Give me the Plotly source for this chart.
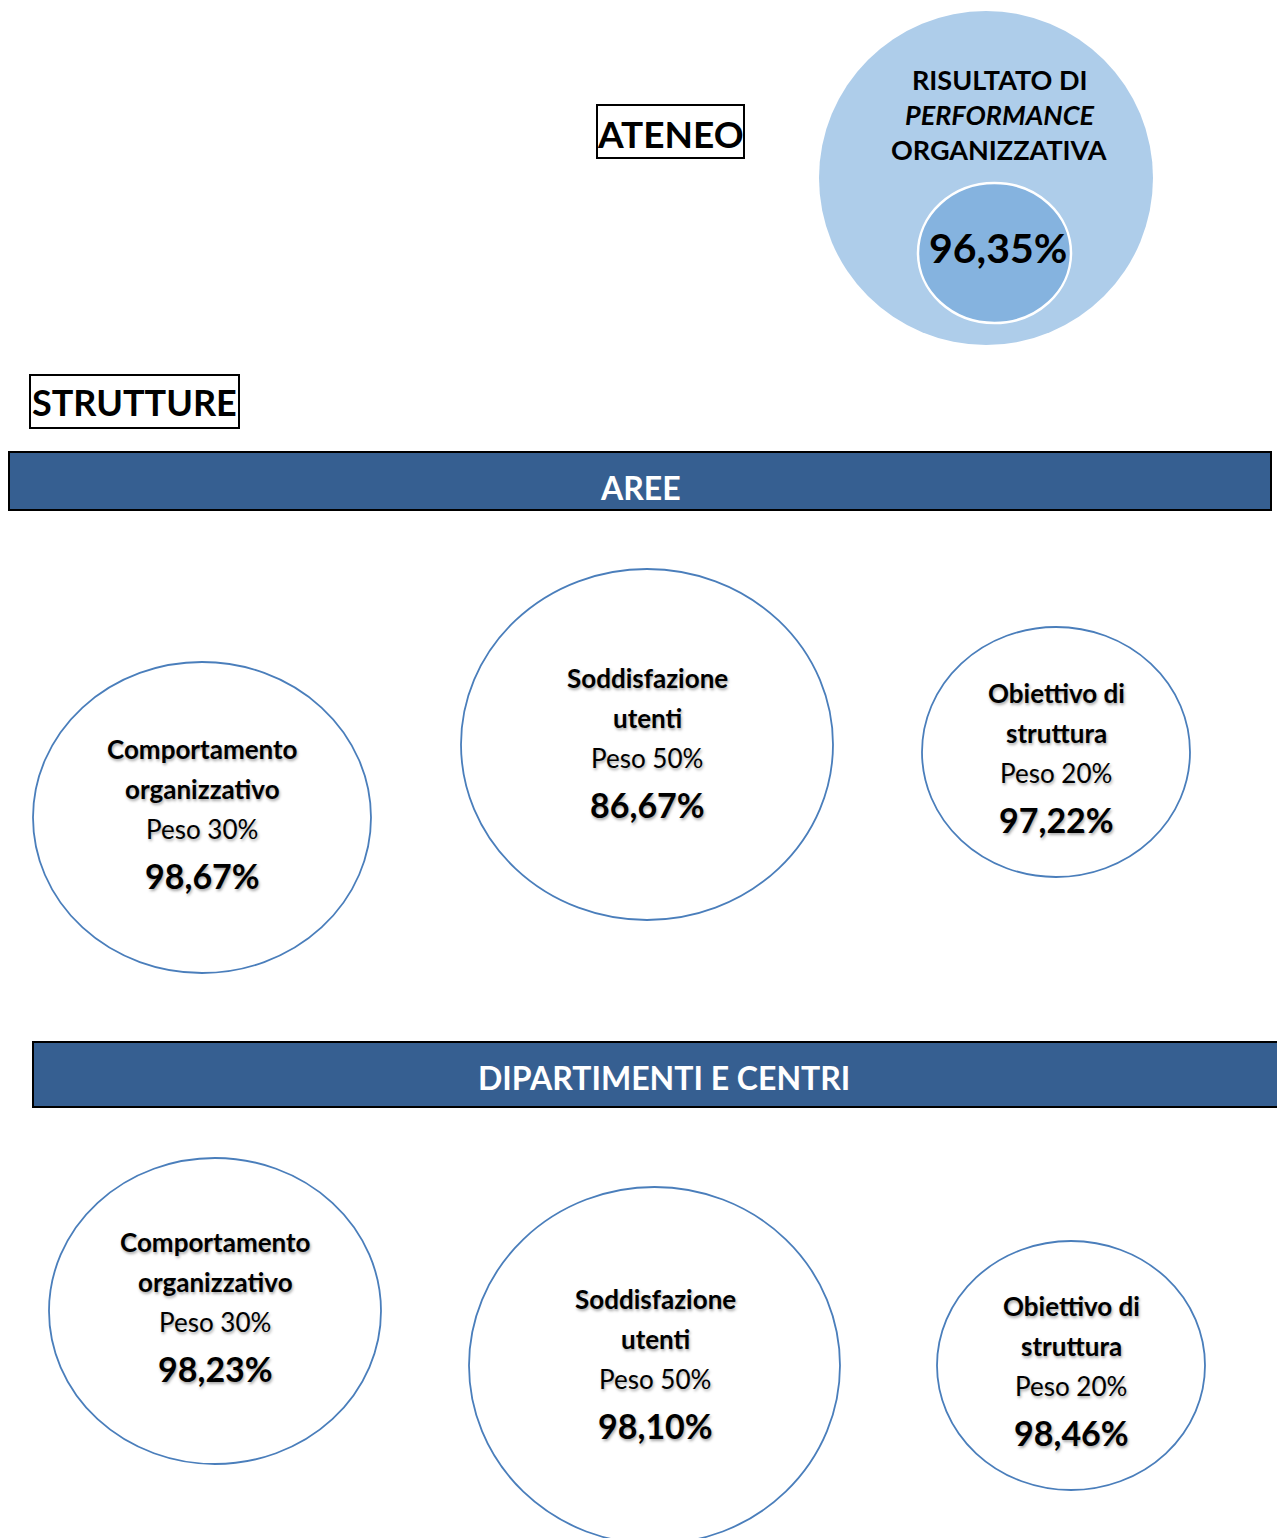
import plotly.graph_objects as go

W, H = 1285, 1538
OFF = 8  # default page body margin
FONT = "Lato"

# ---- data ----
ateneo_label = "ATENEO"
ateneo_title = ["RISULTATO DI", "<i>PERFORMANCE</i>", "ORGANIZZATIVA"]
ateneo_value = "96,35%"
strutture_label = "STRUTTURE"
sections = ["AREE", "DIPARTIMENTI E CENTRI"]
components = [["Comportamento", "organizzativo"], ["Soddisfazione", "utenti"], ["Obiettivo di", "struttura"]]
weights = ["Peso 30%", "Peso 50%", "Peso 20%"]
aree_values = ["98,67%", "86,67%", "97,22%"]
dip_values = ["98,23%", "98,10%", "98,46%"]

# ---- layout geometry (pixel coordinates) ----
aree_circles = [(33, 662, 371, 973), (461, 569, 833, 920), (922, 627, 1190, 877)]
dip_circles = [(49, 1158, 381, 1464), (469, 1187, 840, 1544), (937, 1241, 1205, 1490)]
aree_text_y = [749, 678, 693]
dip_text_y = [1242, 1299, 1306]
aree_text_x = [202, 647, 1056]
dip_text_x = [215, 655, 1071]

fig = go.Figure()
shapes = []
annotations = []
shadow = "1px 2px 3px rgba(0,0,0,0.35)"

def txt(x, y, text, size, bold=True, color="black", shad=None):
    annotations.append(dict(
        x=x, y=y, xref="x", yref="y", text=(f"<b>{text}</b>" if bold else text),
        showarrow=False, xanchor="center", yanchor="middle",
        font=dict(family=FONT, size=size, color=color, shadow=shad or "none")))

# ATENEO box
shapes.append(dict(type="rect", x0=597, y0=105, x1=744, y1=158, line=dict(color="black", width=2), fillcolor="white"))
txt(670, 133, ateneo_label, 37)

# Big circle
shapes.append(dict(type="circle", x0=819, y0=11, x1=1153, y1=345, line=dict(width=0), fillcolor="#AECDEA"))
shapes.append(dict(type="circle", x0=918, y0=183, x1=1071, y1=323, line=dict(color="white", width=2.5), fillcolor="#85B3DF"))
for i, t in enumerate(ateneo_title):
    txt(999, 79 + 35 * i, t, 27)
txt(998, 247, ateneo_value, 41)

# STRUTTURE box
shapes.append(dict(type="rect", x0=30, y0=375, x1=239, y1=428, line=dict(color="black", width=2), fillcolor="white"))
txt(134, 402, strutture_label, 36)

# Banners
banners = [(9, 452, 1271, 510, 640, 487), (33, 1042, 1300, 1107, 664, 1077)]
for (x0, y0, x1, y1, tx, ty), s in zip(banners, sections):
    shapes.append(dict(type="rect", x0=x0, y0=y0, x1=x1, y1=y1, line=dict(color="black", width=2), fillcolor="#365F91"))
    txt(tx, ty, s, 32, color="white")

def row(circles, xs, ys, values):
    for (x0, y0, x1, y1), cx, cy, comp, w, v in zip(circles, xs, ys, components, weights, values):
        shapes.append(dict(type="circle", x0=x0, y0=y0, x1=x1, y1=y1,
                           line=dict(color="#4A7EBB", width=1.8), fillcolor="white"))
        txt(cx, cy, comp[0], 26, shad=shadow)
        txt(cx, cy + 40, comp[1], 26, shad=shadow)
        txt(cx, cy + 80, w, 26, bold=False, shad=shadow)
        txt(cx, cy + 126, v, 34, shad=shadow)

row(aree_circles, aree_text_x, aree_text_y, aree_values)
row(dip_circles, dip_text_x, dip_text_y, dip_values)

fig.update_layout(
    width=W, height=H, margin=dict(l=0, r=0, t=0, b=0),
    paper_bgcolor="white", plot_bgcolor="white",
    xaxis=dict(range=[OFF, W + OFF], visible=False, fixedrange=True),
    yaxis=dict(range=[H + OFF, OFF], visible=False, fixedrange=True),
    shapes=shapes, annotations=annotations, showlegend=False,
)
fig.write_html("out.html", config={"displayModeBar": False},
               post_script="document.documentElement.style.overflow='hidden';document.body.style.overflow='hidden';")
